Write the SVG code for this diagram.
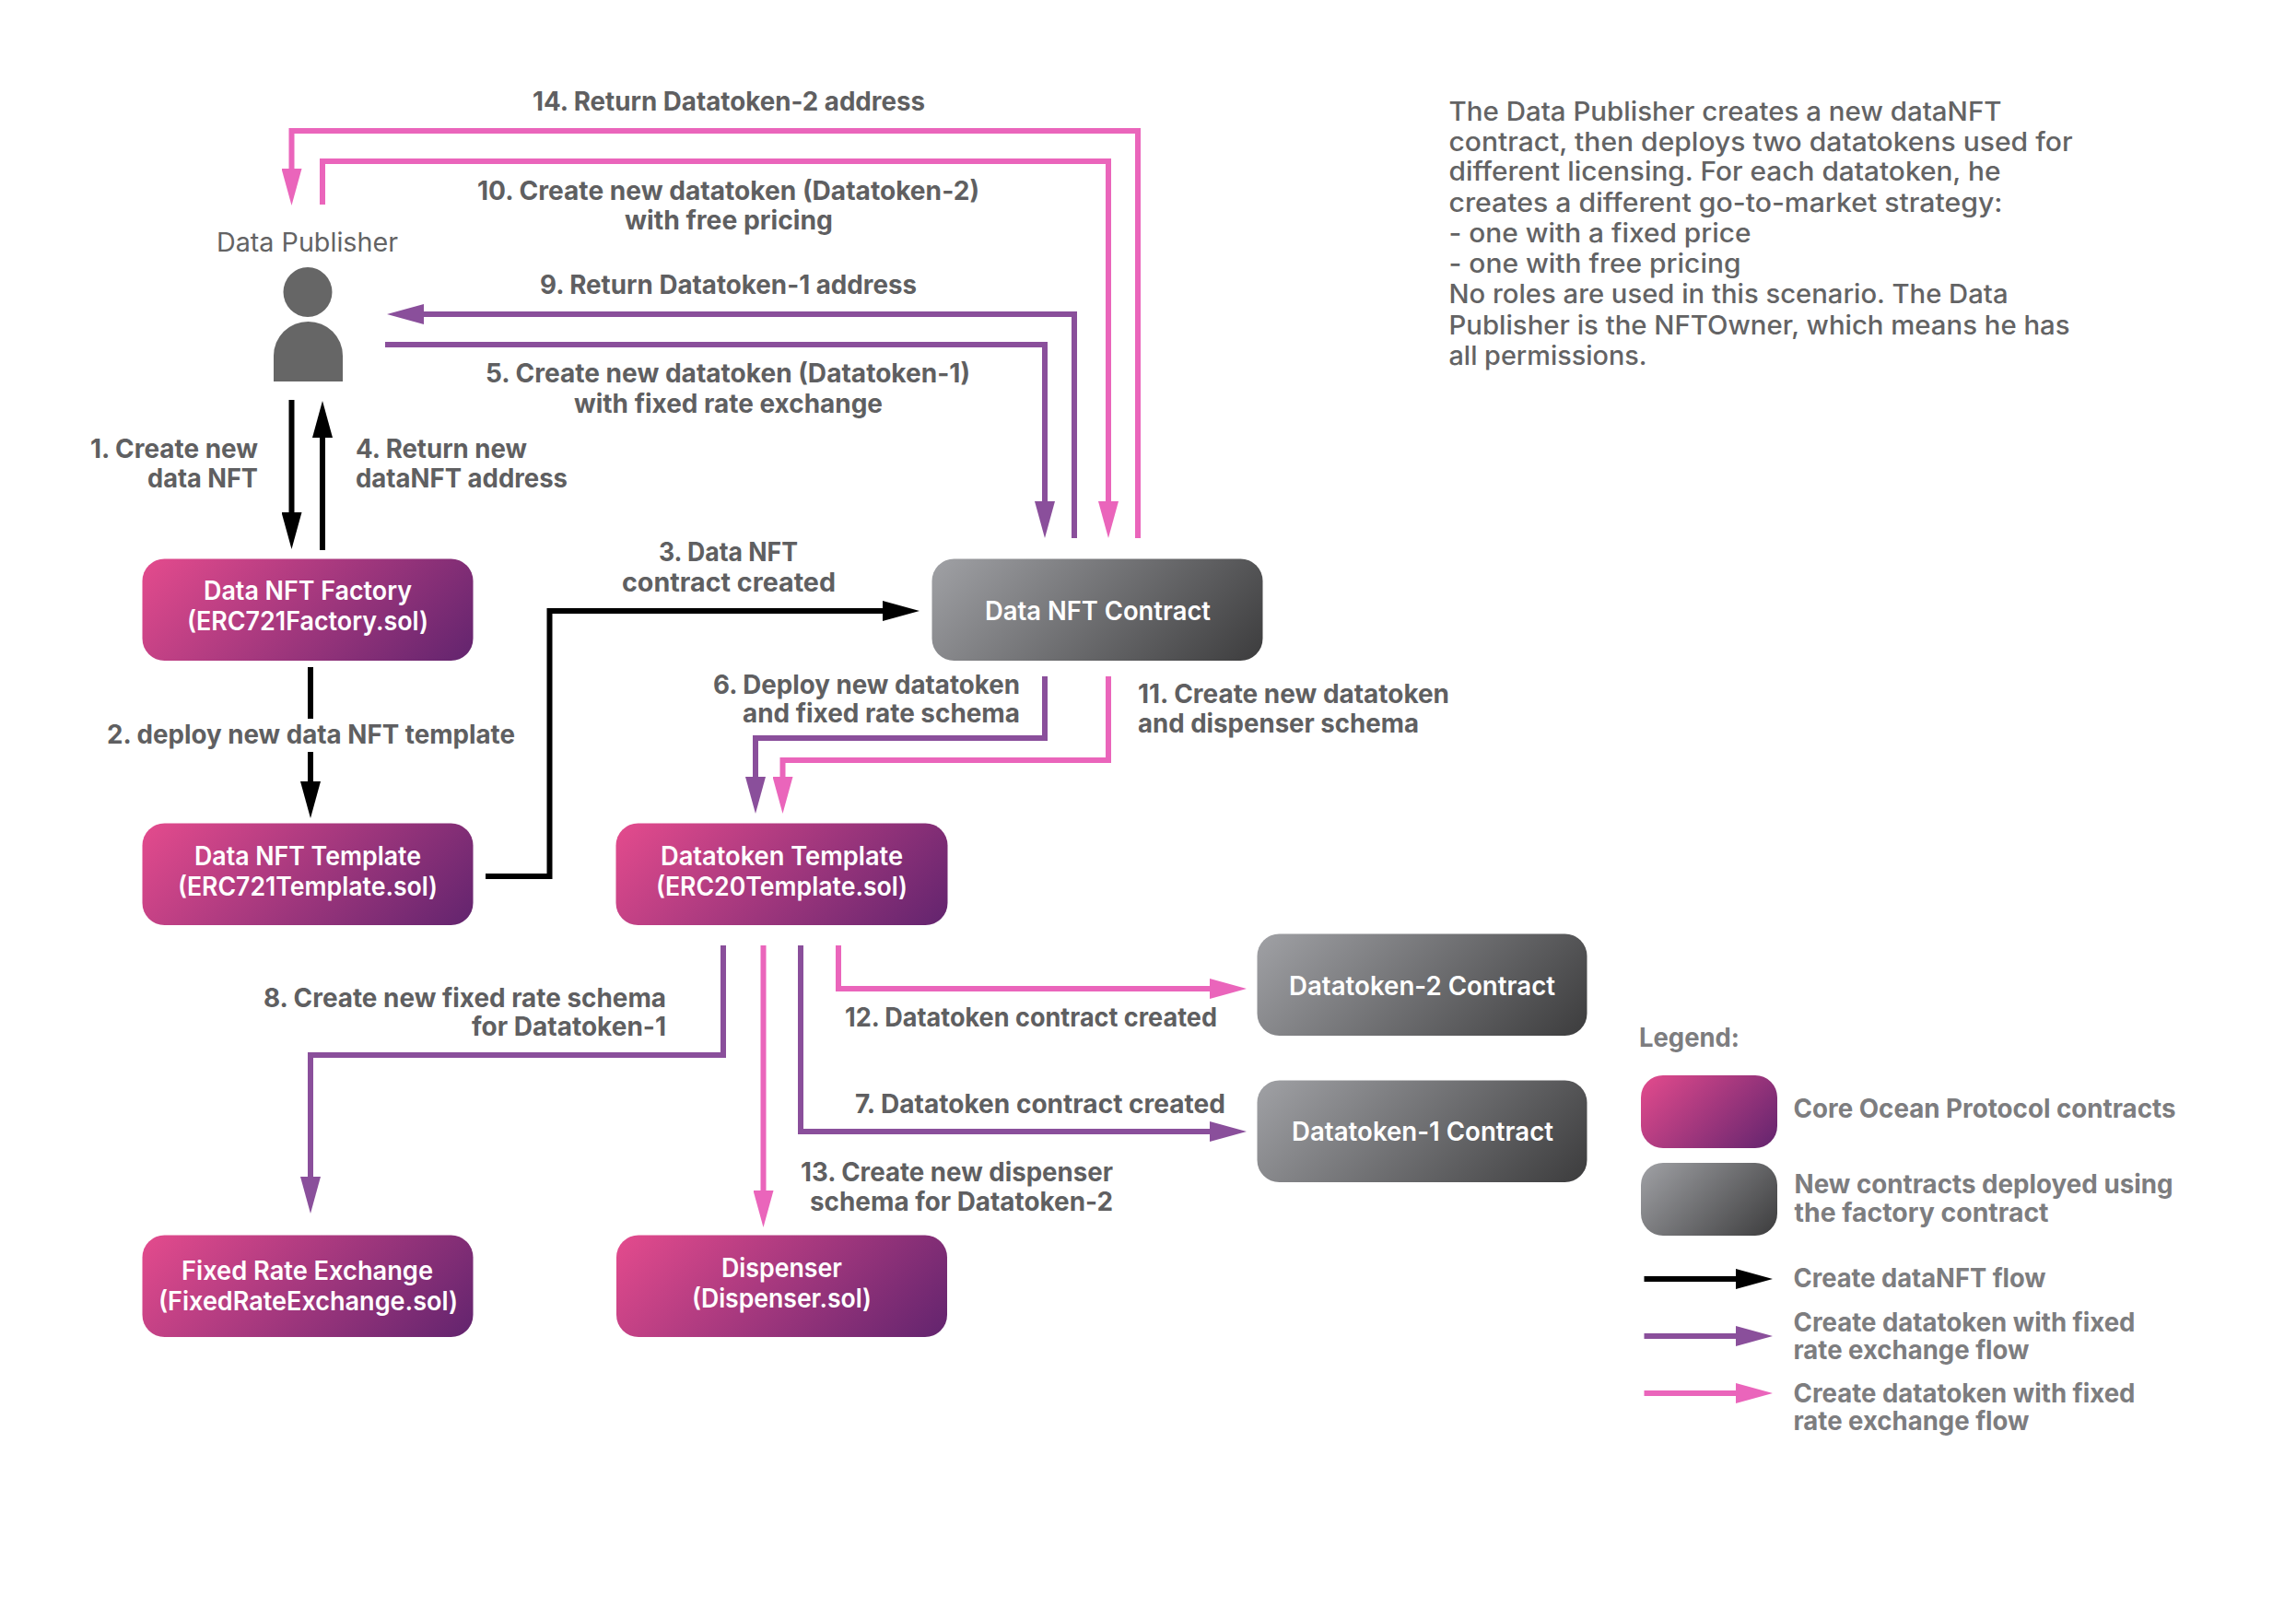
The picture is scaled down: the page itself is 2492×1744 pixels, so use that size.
<svg xmlns="http://www.w3.org/2000/svg" width="2492" height="1744" viewBox="0 0 2492 1744">
<style>
text{font-family:"Inter","Liberation Sans",sans-serif;font-size:28px}
.l{font-weight:700;fill:#5f5f61}
.n{font-weight:600;fill:#fff}
.p{font-weight:500;fill:#636364}
.g{font-weight:700;fill:#7d7d7f}
.c{fill:none;stroke-width:6}
.k{stroke:#000}.u{stroke:#8a4f9b}.i{stroke:#ea65bb}
.box{rx:24px;ry:24px}
</style>
<defs>
<linearGradient id="gp" x1="0" y1="0" x2="1.195" y2="0.367"><stop offset="0" stop-color="#e44b8d"/><stop offset="1" stop-color="#62246e"/></linearGradient>
<linearGradient id="gg" x1="0" y1="0" x2="1.195" y2="0.367"><stop offset="0" stop-color="#a0a1a5"/><stop offset="1" stop-color="#3c3c3d"/></linearGradient>
<linearGradient id="gpl" x1="0" y1="0" x2="1.194" y2="0.637"><stop offset="0" stop-color="#e44b8d"/><stop offset="1" stop-color="#62246e"/></linearGradient>
<linearGradient id="ggl" x1="0" y1="0" x2="1.194" y2="0.637"><stop offset="0" stop-color="#a0a1a5"/><stop offset="1" stop-color="#3c3c3d"/></linearGradient>
<marker id="ak" markerUnits="userSpaceOnUse" markerWidth="40" markerHeight="22" refX="0" refY="11" orient="auto"><path d="M0 0L40 11L0 22Z" fill="#000"/></marker>
<marker id="au" markerUnits="userSpaceOnUse" markerWidth="40" markerHeight="22" refX="0" refY="11" orient="auto"><path d="M0 0L40 11L0 22Z" fill="#8a4f9b"/></marker>
<marker id="ai" markerUnits="userSpaceOnUse" markerWidth="40" markerHeight="22" refX="0" refY="11" orient="auto"><path d="M0 0L40 11L0 22Z" fill="#ea65bb"/></marker>
</defs>
<rect width="2492" height="1744" fill="#fff"/>
<g id="connectors">
<path class="c i" marker-end="url(#ai)" d="M1235 584V142H316.500V183"/>
<path class="c i" marker-end="url(#ai)" d="M350 222V175H1203V544"/>
<path class="c u" marker-end="url(#au)" d="M1166 584V341H460"/>
<path class="c u" marker-end="url(#au)" d="M418 374H1134V544"/>
<path class="c k" marker-end="url(#ak)" d="M316.500 434V556"/>
<path class="c k" marker-end="url(#ak)" d="M350 597V475"/>
<path class="c k" d="M337 724V780"/>
<path class="c k" marker-end="url(#ak)" d="M337 816V848"/>
<path class="c k" marker-end="url(#ak)" d="M527 951H596.500V663H958"/>
<path class="c u" marker-end="url(#au)" d="M1134 734V801H820V843"/>
<path class="c i" marker-end="url(#ai)" d="M1203 734V825H849.500V843"/>
<path class="c u" marker-end="url(#au)" d="M785 1026V1145H337V1277"/>
<path class="c i" marker-end="url(#ai)" d="M828.500 1026V1292"/>
<path class="c u" marker-end="url(#au)" d="M869 1026V1228H1313"/>
<path class="c i" marker-end="url(#ai)" d="M910 1026V1073H1313"/>
</g>
<g id="connector-labels" class="labels">
<text class="l" x="578" y="120" textLength="426" lengthAdjust="spacingAndGlyphs">14. Return Datatoken-2 address</text>
<text class="l" x="518" y="217" textLength="545" lengthAdjust="spacingAndGlyphs">10. Create new datatoken (Datatoken-2)</text>
<text class="l" x="678" y="249" textLength="226" lengthAdjust="spacingAndGlyphs">with free pricing</text>
<text class="l" x="586" y="319" textLength="409" lengthAdjust="spacingAndGlyphs">9. Return Datatoken-1 address</text>
<text class="l" x="527" y="415" textLength="526" lengthAdjust="spacingAndGlyphs">5. Create new datatoken (Datatoken-1)</text>
<text class="l" x="623" y="448" textLength="335" lengthAdjust="spacingAndGlyphs">with fixed rate exchange</text>
<text class="l" x="98" y="497" textLength="182" lengthAdjust="spacingAndGlyphs">1. Create new</text>
<text class="l" x="160" y="529" textLength="120" lengthAdjust="spacingAndGlyphs">data NFT</text>
<text class="l" x="386" y="497" textLength="186" lengthAdjust="spacingAndGlyphs">4. Return new</text>
<text class="l" x="386" y="529" textLength="230" lengthAdjust="spacingAndGlyphs">dataNFT address</text>
<text class="l" x="116" y="807" textLength="443" lengthAdjust="spacingAndGlyphs">2. deploy new data NFT template</text>
<text class="l" x="715" y="609" textLength="151" lengthAdjust="spacingAndGlyphs">3. Data NFT</text>
<text class="l" x="675" y="642" textLength="232" lengthAdjust="spacingAndGlyphs">contract created</text>
<text class="l" x="774" y="753" textLength="333" lengthAdjust="spacingAndGlyphs">6. Deploy new datatoken</text>
<text class="l" x="806" y="784" textLength="301" lengthAdjust="spacingAndGlyphs">and fixed rate schema</text>
<text class="l" x="1235" y="763" textLength="338" lengthAdjust="spacingAndGlyphs">11. Create new datatoken</text>
<text class="l" x="1235" y="795" textLength="305" lengthAdjust="spacingAndGlyphs">and dispenser schema</text>
<text class="l" x="286" y="1093" textLength="437" lengthAdjust="spacingAndGlyphs">8. Create new fixed rate schema</text>
<text class="l" x="512" y="1124" textLength="211" lengthAdjust="spacingAndGlyphs">for Datatoken-1</text>
<text class="l" x="917" y="1114" textLength="404" lengthAdjust="spacingAndGlyphs">12. Datatoken contract created</text>
<text class="l" x="928" y="1208" textLength="402" lengthAdjust="spacingAndGlyphs">7. Datatoken contract created</text>
<text class="l" x="869" y="1282" textLength="339" lengthAdjust="spacingAndGlyphs">13. Create new dispenser</text>
<text class="l" x="879" y="1314" textLength="329" lengthAdjust="spacingAndGlyphs">schema for Datatoken-2</text>
</g>
<g id="publisher">
<text x="235" y="273" textLength="197" lengthAdjust="spacingAndGlyphs" style="font-weight:400;fill:#636364">Data Publisher</text>
<ellipse cx="334" cy="317" rx="26.500" ry="27" fill="#666"/>
<path d="M297 414V386a37.500 37 0 0 1 75 0V414Z" fill="#666"/>
</g>
<g id="factory"><rect class="box" x="154.500" y="606.500" width="359" height="110.500" fill="url(#gp)"/>
<text class="n" x="221" y="651" textLength="226" lengthAdjust="spacingAndGlyphs">Data NFT Factory</text>
<text class="n" x="203" y="684" textLength="262" lengthAdjust="spacingAndGlyphs">(ERC721Factory.sol)</text></g>
<g id="template"><rect class="box" x="154.500" y="893.500" width="359" height="110.500" fill="url(#gp)"/>
<text class="n" x="211" y="939" textLength="246" lengthAdjust="spacingAndGlyphs">Data NFT Template</text>
<text class="n" x="193" y="972" textLength="282" lengthAdjust="spacingAndGlyphs">(ERC721Template.sol)</text></g>
<g id="datatoken-template"><rect class="box" x="668.500" y="893.500" width="360" height="110.500" fill="url(#gp)"/>
<text class="n" x="717" y="939" textLength="263" lengthAdjust="spacingAndGlyphs">Datatoken Template</text>
<text class="n" x="712" y="972" textLength="273" lengthAdjust="spacingAndGlyphs">(ERC20Template.sol)</text></g>
<g id="nft-contract"><rect class="box" x="1011.500" y="606.500" width="359" height="110.500" fill="url(#gg)"/>
<text class="n" x="1069" y="673" textLength="245" lengthAdjust="spacingAndGlyphs">Data NFT Contract</text></g>
<g id="datatoken-2"><rect class="box" x="1364.500" y="1013.500" width="358" height="110.500" fill="url(#gg)"/>
<text class="n" x="1399" y="1080" textLength="289" lengthAdjust="spacingAndGlyphs">Datatoken-2 Contract</text></g>
<g id="datatoken-1"><rect class="box" x="1364.500" y="1172.500" width="358" height="110.500" fill="url(#gg)"/>
<text class="n" x="1402" y="1238" textLength="284" lengthAdjust="spacingAndGlyphs">Datatoken-1 Contract</text></g>
<g id="fixed-rate"><rect class="box" x="154.500" y="1340.500" width="359" height="110.500" fill="url(#gp)"/>
<text class="n" x="197" y="1389" textLength="273" lengthAdjust="spacingAndGlyphs">Fixed Rate Exchange</text>
<text class="n" x="172" y="1422" textLength="325" lengthAdjust="spacingAndGlyphs">(FixedRateExchange.sol)</text></g>
<g id="dispenser"><rect class="box" x="669" y="1340.500" width="359" height="110.500" fill="url(#gp)"/>
<text class="n" x="783" y="1386" textLength="131" lengthAdjust="spacingAndGlyphs">Dispenser</text>
<text class="n" x="751" y="1419" textLength="195" lengthAdjust="spacingAndGlyphs">(Dispenser.sol)</text></g>
<g id="description">
<text class="p" x="1572.500" y="131" textLength="600" lengthAdjust="spacingAndGlyphs">The Data Publisher creates a new dataNFT</text>
<text class="p" x="1572.500" y="164" textLength="677" lengthAdjust="spacingAndGlyphs">contract, then deploys two datatokens used for</text>
<text class="p" x="1572.500" y="196" textLength="599" lengthAdjust="spacingAndGlyphs">different licensing. For each datatoken, he</text>
<text class="p" x="1572.500" y="230" textLength="601" lengthAdjust="spacingAndGlyphs">creates a different go-to-market strategy:</text>
<text class="p" x="1572.500" y="263" textLength="328" lengthAdjust="spacingAndGlyphs">- one with a fixed price</text>
<text class="p" x="1572.500" y="296" textLength="317" lengthAdjust="spacingAndGlyphs">- one with free pricing</text>
<text class="p" x="1572.500" y="329" textLength="607" lengthAdjust="spacingAndGlyphs">No roles are used in this scenario. The Data</text>
<text class="p" x="1572.500" y="363" textLength="674" lengthAdjust="spacingAndGlyphs">Publisher is the NFTOwner, which means he has</text>
<text class="p" x="1572.500" y="396" textLength="215" lengthAdjust="spacingAndGlyphs">all permissions.</text>
</g>
<g id="legend">
<text class="g" x="1779" y="1136" textLength="109" lengthAdjust="spacingAndGlyphs">Legend:</text>
<rect class="box" x="1781" y="1167" width="148" height="79" fill="url(#gpl)"/>
<rect class="box" x="1781" y="1262" width="148" height="79" fill="url(#ggl)"/>
<text class="g" x="1946.500" y="1213" textLength="415" lengthAdjust="spacingAndGlyphs">Core Ocean Protocol contracts</text>
<text class="g" x="1947.500" y="1295" textLength="411" lengthAdjust="spacingAndGlyphs">New contracts deployed using</text>
<text class="g" x="1947.500" y="1326" textLength="276" lengthAdjust="spacingAndGlyphs">the factory contract</text>
<path class="c k" marker-end="url(#ak)" d="M1784.500 1388H1884"/>
<path class="c u" marker-end="url(#au)" d="M1784.500 1450H1884"/>
<path class="c i" marker-end="url(#ai)" d="M1784.500 1512H1884"/>
<text class="g" x="1946.500" y="1397" textLength="274" lengthAdjust="spacingAndGlyphs">Create dataNFT flow</text>
<text class="g" x="1946.500" y="1445" textLength="371" lengthAdjust="spacingAndGlyphs">Create datatoken with fixed</text>
<text class="g" x="1946.500" y="1475" textLength="256" lengthAdjust="spacingAndGlyphs">rate exchange flow</text>
<text class="g" x="1946.500" y="1522" textLength="371" lengthAdjust="spacingAndGlyphs">Create datatoken with fixed</text>
<text class="g" x="1946.500" y="1552" textLength="256" lengthAdjust="spacingAndGlyphs">rate exchange flow</text>
</g>
</svg>
